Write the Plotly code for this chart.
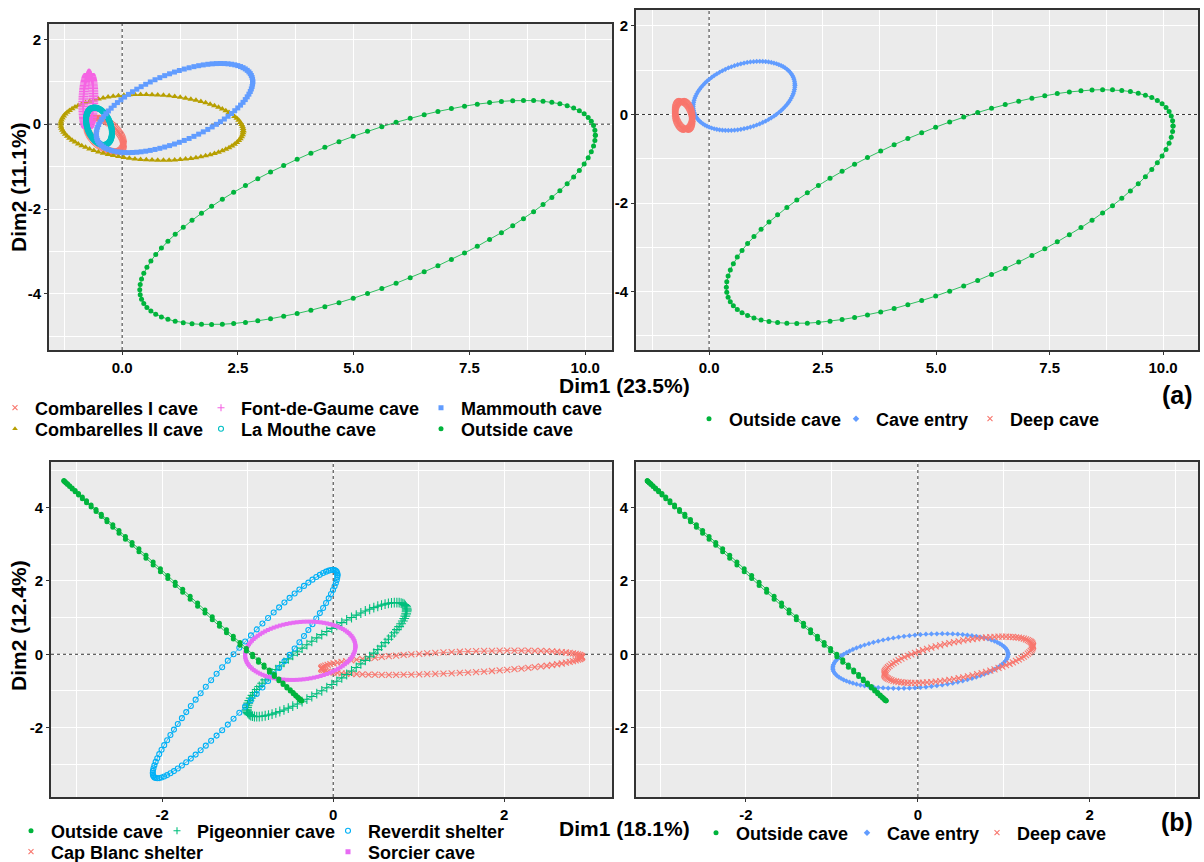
import numpy as np
import plotly.graph_objects as go

W, H = 1204, 862
FONT = "Liberation Sans"

# ---------------------------------------------------------------------------
# Concentration ellipses of each group on the first factorial plane:
# centre (cx, cy), spread along Dim1 (sx) and Dim2 (sy), Dim1/Dim2 correlation (r)
# ---------------------------------------------------------------------------

# (a) left : sites
A_SITE_NAMES = ["Combarelles I cave", "Combarelles II cave", "Font-de-Gaume cave",
                "La Mouthe cave", "Mammouth cave", "Outside cave"]
A_SITE_CX = [-0.37, 0.645, -0.73, -0.50, 1.13, 5.30]
A_SITE_CY = [-0.25, -0.075, 0.55, -0.05, 0.38, -2.08]
A_SITE_SX = [0.40, 1.97, 0.11, 0.28, 1.69, 4.92]
A_SITE_SY = [0.40, 0.775, 0.64, 0.44, 1.05, 2.64]
A_SITE_R = [-0.55, -0.10, 0.15, -0.35, 0.59, 0.69]

# (a) right : zones
A_ZONE_NAMES = ["Outside cave", "Cave entry", "Deep cave"]
A_ZONE_CX = [5.30, 0.77, -0.56]
A_ZONE_CY = [-2.08, 0.42, -0.02]
A_ZONE_SX = [4.92, 1.12, 0.19]
A_ZONE_SY = [2.64, 0.78, 0.32]
A_ZONE_R = [0.69, 0.31, -0.25]

# (b) left : sites
B_SITE_NAMES = ["Outside cave", "Pigeonnier cave", "Reverdit shelter",
                "Cap Blanc shelter", "Sorcier cave"]
B_SITE_CX = [-1.76, -0.075, -1.03, 1.385, -0.385]
B_SITE_CY = [1.73, -0.145, -0.54, -0.23, 0.095]
B_SITE_SX = [1.39, 0.935, 1.08, 1.525, 0.645]
B_SITE_SY = [3.00, 1.555, 2.84, 0.33, 0.795]
B_SITE_R = [-0.9999, 0.87, 0.95, 0.48, 0.15]

# (b) right : zones
B_ZONE_NAMES = ["Outside cave", "Cave entry", "Deep cave"]
B_ZONE_CX = [-1.76, 0.03, 0.475]
B_ZONE_CY = [1.73, -0.185, -0.15]
B_ZONE_SX = [1.39, 1.02, 0.865]
B_ZONE_SY = [3.00, 0.745, 0.63]
B_ZONE_R = [-0.9999, 0.25, 0.60]

# axis ticks
A_XTICKS = [0, 2.5, 5, 7.5, 10]
A_XLABELS = ["0.0", "2.5", "5.0", "7.5", "10.0"]
A_YTICKS = [-4, -2, 0, 2]
A_YLABELS = ["-4", "-2", "0", "2"]
B_XTICKS = [-2, 0, 2]
B_XLABELS = ["-2", "0", "2"]
B_YTICKS = [-2, 0, 2, 4]
B_YLABELS = ["-2", "0", "2", "4"]

# ---------------------------------------------------------------------------
# styles
# ---------------------------------------------------------------------------
GREEN = "#00B43C"
STYLE = {
    "Combarelles I cave": ("#F8766D", "x-thin-open", 6),
    "Combarelles II cave": ("#B79F00", "triangle-up", 6),
    "Font-de-Gaume cave": ("#F564E3", "cross-thin-open", 7),
    "La Mouthe cave": ("#00BFC4", "circle-open", 5),
    "Mammouth cave": ("#619CFF", "square", 5),
    "Outside cave": (GREEN, "circle", 5),
    "Cave entry": ("#619CFF", "diamond", 4),
    "Deep cave": ("#F8766D", "x-thin-open", 6),
    "Pigeonnier cave": ("#00BF7D", "cross-thin-open", 7),
    "Reverdit shelter": ("#00B0F6", "circle-open", 5),
    "Cap Blanc shelter": ("#F8766D", "x-thin-open", 6),
    "Sorcier cave": ("#E76BF3", "square", 4),
}

N_PTS = 101
T = np.linspace(0.0, 2.0 * np.pi, N_PTS)


def ellipse(cx, cy, sx, sy, r):
    x = cx + sx * np.cos(T)
    y = cy + sy * (r * np.cos(T) + np.sqrt(1.0 - r * r) * np.sin(T))
    return x, y


def marker(name, size=None):
    color, symbol, sz = STYLE[name]
    open_sym = symbol.endswith("open")
    return dict(symbol=symbol, color=color, size=size or sz,
                line=dict(color=color, width=1.1 if open_sym else 0))


fig = go.Figure()

# legend placements: (text left px, row centre px)
LEG_POS = {
    1: {"Combarelles I cave": (35, 408), "Font-de-Gaume cave": (241, 408),
        "Mammouth cave": (461, 408), "Combarelles II cave": (35, 429),
        "La Mouthe cave": (241, 429), "Outside cave": (461, 429)},
    2: {"Outside cave": (729, 419), "Cave entry": (876, 419), "Deep cave": (1010, 419)},
    3: {"Outside cave": (51, 831), "Pigeonnier cave": (197, 831),
        "Reverdit shelter": (368, 831), "Cap Blanc shelter": (51, 852),
        "Sorcier cave": (368, 852)},
    4: {"Outside cave": (736, 833), "Cave entry": (887, 833), "Deep cave": (1017, 833)},
}
LEGEND_FONT = 18

legends = {}
leg_counter = [0]


def add_panel(idx, names, cx, cy, sx, sy, rr, order):
    xa = "x" if idx == 1 else f"x{idx}"
    ya = "y" if idx == 1 else f"y{idx}"
    for i in order:
        ex, ey = ellipse(cx[i], cy[i], sx[i], sy[i], rr[i])
        color = STYLE[names[i]][0]
        fig.add_trace(go.Scatter(
            x=ex, y=ey, mode="lines+markers", xaxis=xa, yaxis=ya,
            line=dict(color=color, width=0.8), marker=marker(names[i]),
            showlegend=False, hoverinfo="skip"))
    for i, name in enumerate(names):
        leg_counter[0] += 1
        key = "legend" if leg_counter[0] == 1 else f"legend{leg_counter[0]}"
        tx, ty = LEG_POS[idx][name]
        legends[key] = dict(
            x=(tx - 40) / W, y=1 - ty / H, xanchor="left", yanchor="middle",
            orientation="h", bgcolor="rgba(0,0,0,0)", borderwidth=0,
            itemwidth=30, tracegroupgap=0,
            font=dict(family=FONT, size=LEGEND_FONT, color="black", weight="bold"))
        fig.add_trace(go.Scatter(
            x=[None], y=[None], mode="markers", xaxis=xa, yaxis=ya, name=name,
            marker=marker(name, 5), showlegend=True, legend=key))


add_panel(1, A_SITE_NAMES, A_SITE_CX, A_SITE_CY, A_SITE_SX, A_SITE_SY, A_SITE_R,
          [0, 1, 2, 3, 4, 5])
add_panel(2, A_ZONE_NAMES, A_ZONE_CX, A_ZONE_CY, A_ZONE_SX, A_ZONE_SY, A_ZONE_R,
          [0, 1, 2])
add_panel(3, B_SITE_NAMES, B_SITE_CX, B_SITE_CY, B_SITE_SX, B_SITE_SY, B_SITE_R,
          [3, 1, 2, 4, 0])
add_panel(4, B_ZONE_NAMES, B_ZONE_CX, B_ZONE_CY, B_ZONE_SX, B_ZONE_SY, B_ZONE_R,
          [1, 2, 0])


# ---------------------------------------------------------------------------
# axes
# ---------------------------------------------------------------------------
def dom_x(l, r):
    return [l / W, r / W]


def dom_y(t, b):
    return [1 - b / H, 1 - t / H]


def axis(domain, rng, tickvals, ticktext, minor_vals, anchor):
    return dict(
        domain=domain, range=rng, anchor=anchor,
        tickmode="array", tickvals=tickvals, ticktext=ticktext,
        showline=True, mirror=True, linecolor="#333333", linewidth=1.6,
        ticks="outside", ticklen=3, tickcolor="#333333", tickwidth=1,
        showgrid=True, gridcolor="white", gridwidth=1.2, zeroline=False,
        minor=dict(tickvals=minor_vals, showgrid=True, gridcolor="white",
                   gridwidth=0.5, ticks=""),
        tickfont=dict(family=FONT, size=15, color="black", weight="bold"),
        fixedrange=True)


A_XMINOR = [-1.25, 1.25, 3.75, 6.25, 8.75]
A_YMINOR = [-5, -3, -1, 1]
B_XMINOR = [-3, -1, 1, 3]
B_YMINOR = [-3, -1, 1, 3, 5]

RANGES = {
    "": ([-1.58, 10.58], [-5.32, 2.36]),
    "2": ([-1.61, 10.77], [-5.32, 2.36]),
    "3": ([-3.30, 3.26], [-3.89, 5.24]),
    "4": ([-3.28, 3.26], [-3.89, 5.24]),
}

layout = dict(
    width=W, height=H, margin=dict(l=0, r=0, t=0, b=0, autoexpand=False),
    paper_bgcolor="white", plot_bgcolor="#EBEBEB", showlegend=True,
    xaxis=axis(dom_x(49, 612), RANGES[""][0], A_XTICKS, A_XLABELS, A_XMINOR, "y"),
    yaxis=axis(dom_y(24, 350), RANGES[""][1], A_YTICKS, A_YLABELS, A_YMINOR, "x"),
    xaxis2=axis(dom_x(636, 1198), RANGES["2"][0], A_XTICKS, A_XLABELS, A_XMINOR, "y2"),
    yaxis2=axis(dom_y(10, 350), RANGES["2"][1], A_YTICKS, A_YLABELS, A_YMINOR, "x2"),
    xaxis3=axis(dom_x(51, 612), RANGES["3"][0], B_XTICKS, B_XLABELS, B_XMINOR, "y3"),
    yaxis3=axis(dom_y(462, 797), RANGES["3"][1], B_YTICKS, B_YLABELS, B_YMINOR, "x3"),
    xaxis4=axis(dom_x(636, 1198), RANGES["4"][0], B_XTICKS, B_XLABELS, B_XMINOR, "y4"),
    yaxis4=axis(dom_y(462, 797), RANGES["4"][1], B_YTICKS, B_YLABELS, B_YMINOR, "x4"),
)
layout.update(legends)
fig.update_layout(**layout)

# dashed reference lines through the origin
for k, (xr, yr) in RANGES.items():
    dash = dict(color="#333333", width=1, dash="3px,3px")
    fig.add_shape(type="line", xref=f"x{k}", yref=f"y{k}", x0=0, x1=0,
                  y0=yr[0], y1=yr[1], line=dash, layer="between")
    fig.add_shape(type="line", xref=f"x{k}", yref=f"y{k}", x0=xr[0], x1=xr[1],
                  y0=0, y1=0, line=dash, layer="between")


def label(text, px, py, size=21, angle=0):
    fig.add_annotation(text=text, x=px / W, y=1 - py / H, xref="paper", yref="paper",
                       showarrow=False, xanchor="center", yanchor="middle", textangle=angle,
                       font=dict(family=FONT, size=size, color="black", weight="bold"))


label("Dim1 (23.5%)", 624, 385)
label("Dim2 (11.1%)", 18, 187, angle=-90)
label("Dim1 (18.1%)", 624, 828)
label("Dim2 (12.4%)", 18, 626, angle=-90)
label("(a)", 1177, 395, size=25)
label("(b)", 1177, 822, size=25)

fig.write_html("out.html")
